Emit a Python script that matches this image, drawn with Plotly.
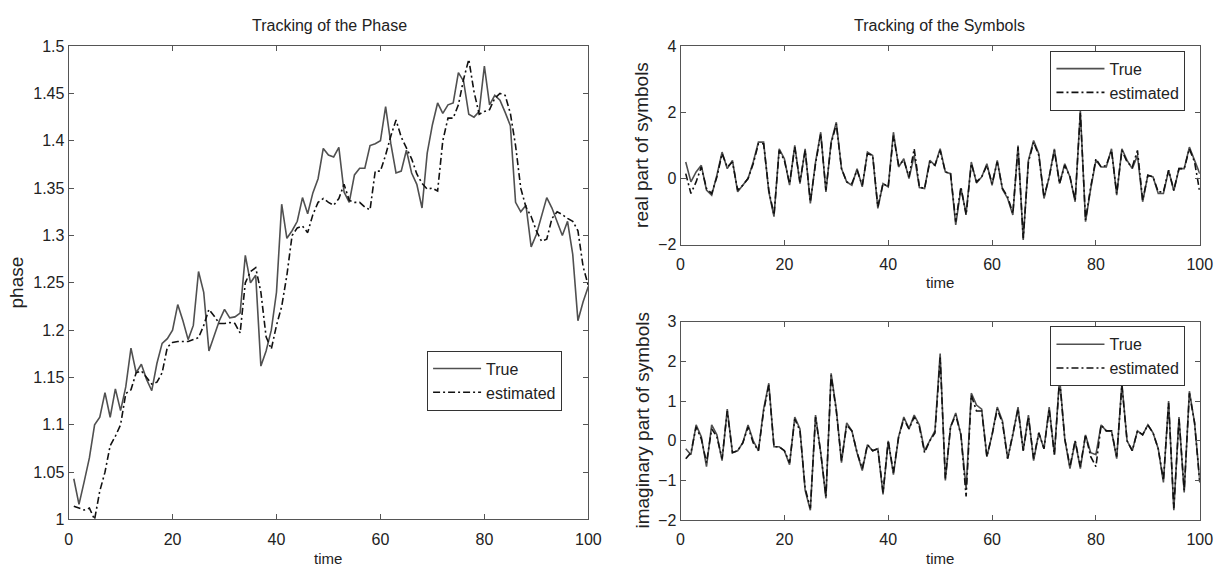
import plotly.graph_objects as go

# ---------------- data ----------------
time = list(range(1, 101))

phase_true = [1.043, 1.016, 1.040, 1.065, 1.100, 1.108, 1.134, 1.108, 1.138, 1.115,
              1.140, 1.181, 1.155, 1.164, 1.148, 1.136, 1.165, 1.186, 1.191, 1.200,
              1.227, 1.210, 1.190, 1.205, 1.262, 1.240, 1.178, 1.195, 1.210, 1.222,
              1.213, 1.214, 1.218, 1.279, 1.250, 1.258, 1.162, 1.178, 1.200, 1.240,
              1.333, 1.297, 1.305, 1.315, 1.340, 1.323, 1.345, 1.360, 1.392, 1.385,
              1.383, 1.393, 1.346, 1.335, 1.364, 1.371, 1.371, 1.395, 1.397, 1.400,
              1.436, 1.397, 1.366, 1.368, 1.390, 1.366, 1.354, 1.329, 1.387, 1.417,
              1.440, 1.429, 1.438, 1.440, 1.472, 1.463, 1.428, 1.425, 1.431, 1.479,
              1.438, 1.448, 1.443, 1.430, 1.416, 1.335, 1.325, 1.332, 1.288, 1.301,
              1.320, 1.340, 1.329, 1.315, 1.300, 1.315, 1.280, 1.210, 1.230, 1.246]

phase_est = [1.014, 1.012, 1.010, 1.012, 1.000, 1.030, 1.050, 1.078, 1.088, 1.100,
             1.133, 1.137, 1.155, 1.157, 1.150, 1.143, 1.145, 1.155, 1.182, 1.187,
             1.188, 1.188, 1.188, 1.190, 1.192, 1.205, 1.222, 1.215, 1.207, 1.207,
             1.208, 1.207, 1.197, 1.250, 1.262, 1.266, 1.240, 1.193, 1.180, 1.205,
             1.225, 1.258, 1.300, 1.308, 1.310, 1.303, 1.322, 1.335, 1.339, 1.335,
             1.332, 1.339, 1.354, 1.337, 1.335, 1.335, 1.330, 1.327, 1.368, 1.368,
             1.385, 1.405, 1.422, 1.404, 1.392, 1.381, 1.365, 1.355, 1.349, 1.350,
             1.347, 1.400, 1.424, 1.424, 1.438, 1.465, 1.486, 1.452, 1.428, 1.431,
             1.433, 1.445, 1.450, 1.448, 1.429, 1.395, 1.350, 1.330, 1.320, 1.305,
             1.294, 1.296, 1.318, 1.325, 1.322, 1.318, 1.315, 1.305, 1.267, 1.247]

real_true = [0.50, -0.10, 0.20, 0.40, -0.35, -0.50, 0.10, 0.80, 0.30, 0.55,
             -0.40, -0.20, 0.00, 0.50, 1.10, 1.10, -0.40, -1.15, 0.90, 0.60,
             -0.20, 1.00, -0.15, 0.90, -0.75, 0.50, 1.40, -0.40, 1.10, 1.70,
             0.30, -0.10, -0.20, 0.30, -0.25, 0.80, 0.70, -0.90, -0.15, -0.25,
             1.40, 0.35, 0.60, 0.00, 0.70, -0.27, -0.30, 0.55, 0.40, 0.90,
             0.20, 0.15, -1.40, -0.30, -1.05, 0.50, -0.13, 0.05, 0.45, -0.20,
             0.55, -0.32, -0.60, -1.10, 1.00, -1.85, 0.55, 1.15, 0.75, -0.60,
             0.05, 0.90, -0.15, 0.45, 0.05, -0.70, 2.05, -1.30, -0.30, 0.55,
             0.35, 0.35, 0.90, -0.50, 0.90, 0.55, 0.30, 0.70, -0.70, 0.10,
             0.05, -0.45, -0.45, 0.25, -0.37, 0.30, 0.30, 0.95, 0.55, 0.15]

real_est = [0.15, -0.45, -0.10, 0.35, -0.30, -0.45, 0.05, 0.75, 0.35, 0.50,
            -0.35, -0.20, 0.00, 0.45, 1.05, 1.05, -0.35, -1.10, 0.85, 0.55,
            -0.15, 0.95, -0.10, 0.85, -0.70, 0.45, 1.35, -0.35, 1.05, 1.65,
            0.30, -0.10, -0.15, 0.25, -0.20, 0.75, 0.70, -0.85, -0.15, -0.25,
            1.30, 0.40, 0.55, 0.05, 0.90, -0.25, -0.30, 0.50, 0.40, 0.85,
            0.20, 0.15, -1.30, -0.25, -1.10, 0.45, -0.10, 0.05, 0.40, -0.15,
            0.50, -0.30, -0.55, -1.05, 0.95, -1.80, 0.50, 1.10, 0.70, -0.55,
            0.05, 0.85, -0.15, 0.40, 0.05, -0.65, 2.00, -1.25, -0.25, 0.60,
            0.35, 0.40, 0.85, -0.45, 0.85, 0.50, 0.35, 0.85, -0.65, 0.10,
            0.05, -0.40, -0.40, 0.25, -0.35, 0.30, 0.30, 0.90, 0.50, -0.40]

imag_true = [-0.20, -0.35, 0.40, 0.10, -0.65, 0.40, 0.15, -0.50, 0.80, -0.30,
             -0.25, -0.05, 0.40, 0.00, -0.25, 0.80, 1.45, -0.15, -0.15, -0.25,
             -0.60, 0.60, 0.30, -1.25, -1.75, 0.65, -0.30, -1.45, 1.70, 0.80,
             -0.55, 0.45, 0.25, -0.30, -0.75, -0.10, -0.25, -0.20, -1.35, 0.00,
             -0.85, 0.10, 0.60, 0.30, 0.65, 0.40, -0.25, 0.00, 0.25, 2.20,
             -1.00, 0.35, 0.70, 0.15, -1.20, 1.20, 0.90, 0.80, -0.40, 0.15,
             0.85, 0.50, -0.45, 0.15, 0.85, -0.25, 0.65, -0.50, 0.20, -0.20,
             0.85, -0.35, 1.60, 0.05, -0.70, 0.00, -0.70, 0.15, -0.30, -0.35,
             0.40, 0.25, 0.25, -0.45, 1.45, 0.00, -0.25, 0.25, 0.15, 0.40,
             0.20, -0.20, -1.05, 1.00, -1.75, 0.60, -1.30, 1.25, 0.45, -1.00]

imag_est = [-0.45, -0.30, 0.35, 0.05, -0.55, 0.30, 0.10, -0.45, 0.75, -0.30,
            -0.25, -0.05, 0.35, -0.05, -0.25, 0.75, 1.40, -0.15, -0.15, -0.25,
            -0.55, 0.55, 0.25, -1.20, -1.70, 0.60, -0.30, -1.40, 1.65, 0.75,
            -0.50, 0.40, 0.25, -0.30, -0.70, -0.10, -0.25, -0.20, -1.30, 0.00,
            -0.80, 0.10, 0.55, 0.30, 0.60, 0.35, -0.30, 0.00, 0.20, 2.10,
            -0.95, 0.35, 0.65, 0.15, -1.40, 1.15, 0.75, 0.75, -0.40, 0.15,
            0.80, 0.45, -0.45, 0.15, 0.80, -0.25, 0.60, -0.45, 0.20, -0.20,
            0.80, -0.35, 1.55, 0.05, -0.65, 0.00, -0.65, 0.15, -0.40, -0.65,
            0.40, 0.25, 0.25, -0.40, 1.40, 0.00, -0.25, 0.25, 0.15, 0.40,
            0.20, -0.20, -1.00, 0.95, -1.70, 0.55, -1.25, 1.20, 0.45, -1.05]

x_ticks = [0, 20, 40, 60, 80, 100]
phase_ticks = [1.0, 1.05, 1.1, 1.15, 1.2, 1.25, 1.3, 1.35, 1.4, 1.45, 1.5]
phase_ticktext = ["1", "1.05", "1.1", "1.15", "1.2", "1.25", "1.3", "1.35", "1.4", "1.45", "1.5"]
real_ticks = [-2, 0, 2, 4]
imag_ticks = [-2, -1, 0, 1, 2, 3]

# ---------------- style ----------------
W, H = 1232, 577
FONT = "Liberation Sans, Arial, Helvetica, sans-serif"
TXT = "#222222"
TRUE_C = "#505050"
EST_C = "#111111"
DASHDOT = "7px,3px,2px,3px"

def px_x(x):
    return x / W

def px_y(y):
    return 1 - y / H

fig = go.Figure()

def add_pair(yt, ye, xa, ya, leg):
    fig.add_trace(go.Scatter(x=time, y=yt, mode="lines", name="True",
                             line=dict(color=TRUE_C, width=1.6),
                             xaxis=xa, yaxis=ya, legend=leg))
    fig.add_trace(go.Scatter(x=time, y=ye, mode="lines", name="estimated",
                             line=dict(color=EST_C, width=1.6, dash=DASHDOT),
                             xaxis=xa, yaxis=ya, legend=leg))

add_pair(phase_true, phase_est, "x", "y", "legend")
add_pair(real_true, real_est, "x2", "y2", "legend2")
add_pair(imag_true, imag_est, "x3", "y3", "legend3")

axis_common = dict(showline=True, linecolor="#555555", linewidth=1, mirror="ticks",
                   ticks="inside", ticklen=5, tickcolor="#555555", showgrid=False,
                   zeroline=False, tickfont=dict(family=FONT, size=16, color=TXT))

xd_left = [px_x(65.5), px_x(592.5)]
xd_right = [px_x(686), px_x(1212.5)]

leg_common = dict(bgcolor="white", bordercolor="#333333", borderwidth=1, itemwidth=48,
                  font=dict(family=FONT, size=16, color=TXT))

fig.update_layout(
    width=W, height=H, autosize=False,
    margin=dict(l=0, r=0, t=0, b=0),
    paper_bgcolor="white", plot_bgcolor="white",
    font=dict(family=FONT, size=16, color=TXT),
    xaxis=dict(domain=xd_left, range=[0, 100], tickvals=x_ticks, anchor="y",
               ticklabelstandoff=5, **axis_common),
    yaxis=dict(domain=[px_y(527), px_y(39.3)], range=[1, 1.5], tickvals=phase_ticks,
               ticktext=phase_ticktext, anchor="x", **axis_common),
    xaxis2=dict(domain=xd_right, range=[0, 100], tickvals=x_ticks, anchor="y2",
                ticklabelstandoff=5, **axis_common),
    yaxis2=dict(domain=[px_y(244), px_y(39.3)], range=[-2, 4], tickvals=real_ticks,
                anchor="x2", **axis_common),
    xaxis3=dict(domain=xd_right, range=[0, 100], tickvals=x_ticks, anchor="y3",
                ticklabelstandoff=5, **axis_common),
    yaxis3=dict(domain=[px_y(527.7), px_y(323.3)], range=[-2, 3], tickvals=imag_ticks,
                anchor="x3", **axis_common),
    legend=dict(x=px_x(429), y=px_y(353), xanchor="left", yanchor="top", **leg_common),
    legend2=dict(x=px_x(1198), y=px_y(44), xanchor="right", yanchor="top", **leg_common),
    legend3=dict(x=px_x(1198), y=px_y(328), xanchor="right", yanchor="top", **leg_common),
    showlegend=True,
)

def ann(text, x, y, size, angle=0):
    fig.add_annotation(text=text, x=px_x(x), y=px_y(y), xref="paper", yref="paper",
                       xanchor="center", yanchor="middle", showarrow=False,
                       textangle=angle, font=dict(family=FONT, size=size, color=TXT))

ann("Tracking of the Phase", 330, 18, 16)
ann("Tracking of the Symbols", 949, 18, 16)
ann("time", 329, 567, 15)
ann("time", 949, 283, 15)
ann("time", 949, 567, 15)
ann("phase", 13, 283, 19, -90)
ann("real part of symbols", 647, 141, 19, -90)
ann("imaginary part of symbols", 647, 425, 19, -90)

fig.write_html("out.html")
